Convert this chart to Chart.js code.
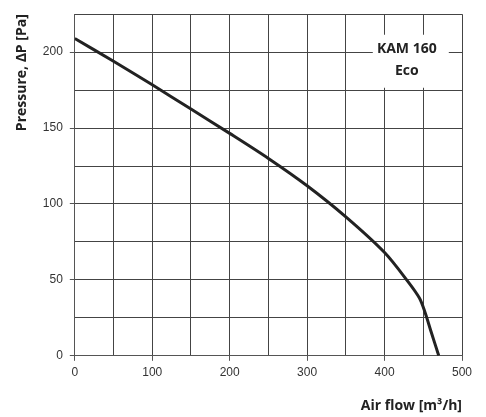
<!DOCTYPE html>
<html>
<head>
<meta charset="utf-8">
<script src="https://cdn.jsdelivr.net/npm/chart.js@4/dist/chart.umd.min.js"></script>
<style>
    html, body { margin: 0; padding: 0; background: #fff; }
    #wrap { width: 486px; height: 417px; position: relative; }
</style>
</head>
<body>
<div id="wrap"><canvas id="fan-chart"></canvas></div>
<script>
    // Fan curve
    const airFlow = [0, 50, 100, 150, 200, 250, 300, 350, 400, 430, 445, 452, 460, 470];
    const pressure = [209, 194, 178.5, 162.5, 146.5, 130, 112, 91.5, 68, 49, 38, 29, 16, 0];
    const modelLines = ["KAM 160", "Eco"];

    const labelBox = {
        id: "labelBox",
        afterDatasetsDraw: function (chart) {
            const ctx = chart.ctx;
            const xs = chart.scales.x;
            const ys = chart.scales.y;
            const cx = xs.getPixelForValue(430);
            const cy = ys.getPixelForValue(195);
            ctx.save();
            ctx.fillStyle = "#fff";
            ctx.fillRect(cx - 35, cy - 25, 76, 53);
            ctx.fillStyle = "#222";
            ctx.font = "bold 14px 'Open Sans', sans-serif";
            ctx.textAlign = "center";
            ctx.textBaseline = "middle";
            ctx.fillText(modelLines[0], cx - 1, cy - 11);
            ctx.fillText(modelLines[1], cx - 1, cy + 11);
            ctx.restore();
        }
    };

    const points = airFlow.map(function (x, i) {
        return { x: x, y: pressure[i] };
    });

    new Chart(document.getElementById("fan-chart").getContext("2d"), {
        type: "line",
        data: {
            datasets: [{
                data: points,
                borderColor: "#222",
                borderWidth: 3,
                pointRadius: 0,
                fill: false,
                tension: 0.3
            }]
        },
        options: {
            responsive: true,
            maintainAspectRatio: false,
            animation: false,
            layout: { padding: { top: 11, right: 24, left: 14, bottom: 3 } },
            plugins: {
                legend: { display: false },
                tooltip: { enabled: false }
            },
            scales: {
                x: {
                    type: "linear",
                    min: 0,
                    max: 500,
                    border: { color: "#555", width: 1 },
                    grid: {
                        color: "#444",
                        tickLength: 5,
                        tickColor: function (c) {
                            return c.tick && c.tick.value % 100 === 0 ? "#555" : "rgba(0,0,0,0)";
                        }
                    },
                    ticks: {
                        stepSize: 50,
                        maxRotation: 0,
                        autoSkip: false,
                        color: "#333",
                        font: { family: "'Liberation Sans', Arial, sans-serif", size: 12 },
                        padding: 5,
                        callback: function (v) { return v % 100 === 0 ? v : ""; }
                    },
                    title: {
                        display: true,
                        text: "Air flow [m³/h]",
                        align: "end",
                        color: "#222",
                        font: { family: "'Open Sans', sans-serif", size: 14, weight: "bold" },
                        padding: { top: 12, bottom: 0 }
                    }
                },
                y: {
                    type: "linear",
                    min: 0,
                    max: 225,
                    border: { color: "#555", width: 1 },
                    grid: {
                        color: "#444",
                        tickLength: 5,
                        tickColor: function (c) {
                            return c.tick && c.tick.value % 50 === 0 ? "#555" : "rgba(0,0,0,0)";
                        }
                    },
                    ticks: {
                        stepSize: 25,
                        autoSkip: false,
                        color: "#333",
                        font: { family: "'Liberation Sans', Arial, sans-serif", size: 12 },
                        padding: 7,
                        callback: function (v) { return v % 50 === 0 ? v : ""; }
                    },
                    title: {
                        display: true,
                        text: "Pressure, \u2206P [Pa]",
                        align: "end",
                        color: "#222",
                        font: { family: "'Open Sans', sans-serif", size: 14, weight: "bold" },
                        padding: { top: 0, bottom: 5 }
                    }
                }
            }
        },
        plugins: [labelBox]
    });
</script>
</body>
</html>
